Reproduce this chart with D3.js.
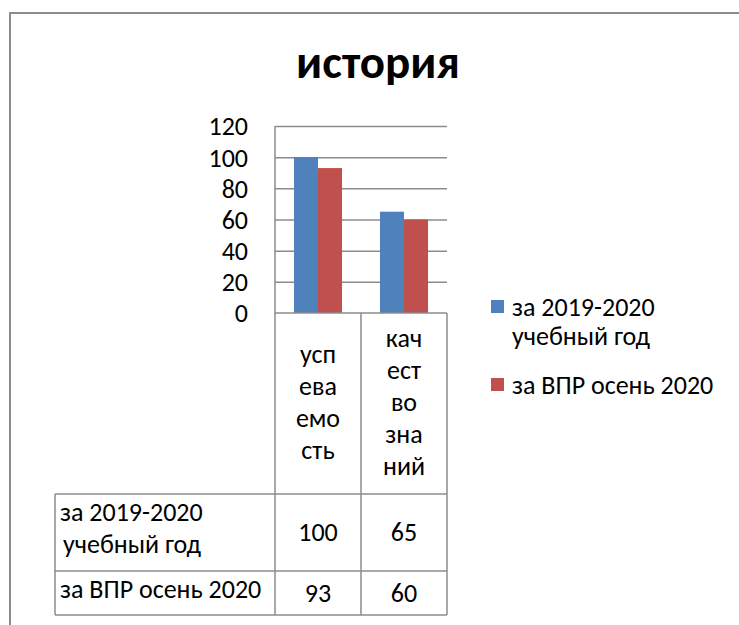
<!DOCTYPE html>
<html>
<head>
<meta charset="utf-8">
<script src="https://d3js.org/d3.v7.min.js"></script>
<style>
  body { margin: 0; background: #fff; }
  text { font-family: Carlito, Calibri, Lato, sans-serif; fill: #000; }
</style>
</head>
<body>
<div id="chart"></div>
<script>
// chart data
var title = "история"
var categories = ["успеваемость", "качество знаний"]
var categoryLines = [["усп", "ева", "емо", "сть"], ["кач", "ест", "во", "зна", "ний"]]
var seriesNames = ["за 2019-2020 учебный год", "за ВПР осень 2020"]
var seriesLines = [["за 2019-2020", "учебный год"], ["за ВПР осень 2020"]]
var values2019 = [100, 65]
var valuesVPR = [93, 60]
var yTicks = [0, 20, 40, 60, 80, 100, 120]

var seriesValues = [values2019, valuesVPR]
var colours = ["#4f81bd", "#c0504d"]
var gridColour = "#8c8c8c"
var fontSize = "26px"

var width = 739, height = 625

var svg = d3.select("#chart").append("svg")
  .attr("width", width)
  .attr("height", height)

// outer frame (only top and left edges are visible)
svg.append("path")
  .attr("d", "M10," + height + "V13H" + width)
  .attr("fill", "none")
  .attr("stroke", "#8c8c8c")
  .attr("stroke-width", 2)

svg.append("text")
  .attr("x", 378)
  .attr("y", 78)
  .attr("text-anchor", "middle")
  .style("font-size", "47px")
  .style("font-weight", "bold")
  .text(title)

var plotLeft = 275, plotRight = 447, plotTop = 126, plotBottom = 313

var x = d3.scaleBand().domain(categories).range([plotLeft, plotRight])
var x1 = d3.scaleBand().domain(seriesNames).range([0, x.bandwidth()]).paddingOuter(0.79)
var y = d3.scaleLinear().domain([0, 120]).range([plotBottom, plotTop])

// gridlines
svg.append("g").selectAll("line")
  .data(yTicks.filter(function (d) { return d > 0 }))
  .enter().append("line")
  .attr("x1", plotLeft).attr("x2", plotRight)
  .attr("y1", function (d) { return y(d) + 0.5 })
  .attr("y2", function (d) { return y(d) + 0.5 })
  .attr("stroke", gridColour)
  .attr("stroke-width", 1.5)

// bars
seriesNames.forEach(function (s, si) {
  svg.append("g").selectAll("rect")
    .data(seriesValues[si])
    .enter().append("rect")
    .attr("x", function (d, i) { return x(categories[i]) + x1(s) })
    .attr("width", x1.bandwidth())
    .attr("y", function (d) { return y(d) })
    .attr("height", function (d) { return y(0) - y(d) })
    .attr("fill", colours[si])
})

// y axis
var yAxis = svg.append("g")
  .attr("transform", "translate(" + plotLeft + ",0)")
  .call(d3.axisLeft(y).tickValues(yTicks).tickSize(0).tickPadding(27))
yAxis.select(".domain").attr("stroke", gridColour).attr("stroke-width", 1.5)
  .attr("d", "M0," + plotTop + "V" + plotBottom)
yAxis.selectAll("text")
  .style("font-size", fontSize)
  .attr("dy", "0.34em")
  .style("font-family", "Carlito, Calibri, Lato, sans-serif")

// data table
var tableLeft = 55, row1Top = 494, row2Top = 571, tableBottom = 615
var rowTops = [row1Top, row2Top, tableBottom]
var table = svg.append("g")
  .attr("stroke", gridColour)
  .attr("stroke-width", 1.5)
  .attr("fill", "none")

// horizontal axis / table lines
table.append("line").attr("x1", plotLeft).attr("x2", plotRight).attr("y1", plotBottom).attr("y2", plotBottom)
rowTops.forEach(function (ry) {
  table.append("line").attr("x1", tableLeft).attr("x2", plotRight).attr("y1", ry).attr("y2", ry)
})
table.append("line").attr("x1", tableLeft).attr("x2", tableLeft).attr("y1", row1Top).attr("y2", tableBottom)
categories.concat([null]).forEach(function (c) {
  var xx = c === null ? plotRight : x(c)
  table.append("line").attr("x1", xx).attr("x2", xx).attr("y1", plotBottom).attr("y2", tableBottom)
})

// category labels
categories.forEach(function (c, ci) {
  var lines = categoryLines[ci]
  var mid = (plotBottom + row1Top) / 2
  var lh = 32
  svg.append("g").selectAll("text")
    .data(lines)
    .enter().append("text")
    .attr("x", x(c) + x.bandwidth() / 2)
    .attr("y", function (d, i) { return mid + (i - (lines.length - 1) / 2) * lh })
    .attr("dy", "0.3em")
    .attr("text-anchor", "middle")
    .style("font-size", fontSize)
    .text(function (d) { return d })
})

// row labels and values
seriesNames.forEach(function (s, si) {
  var top = rowTops[si], bottom = rowTops[si + 1]
  var mid = (top + bottom) / 2
  var lines = seriesLines[si]
  svg.append("g").selectAll("text")
    .data(lines)
    .enter().append("text")
    .attr("x", function (d, i) { return tableLeft + 5 + i * 3 })
    .attr("y", function (d, i) { return mid - 4 + (i - (lines.length - 1) / 2) * 32 })
    .attr("dy", "0.34em")
    .style("font-size", fontSize)
    .text(function (d) { return d })

  svg.append("g").selectAll("text")
    .data(seriesValues[si])
    .enter().append("text")
    .attr("x", function (d, i) { return x(categories[i]) + x.bandwidth() / 2 })
    .attr("y", mid)
    .attr("dy", "0.34em")
    .attr("text-anchor", "middle")
    .style("font-size", fontSize)
    .text(function (d) { return d })
})

// legend
var legendX = 491
var legendTops = [300, 378]
seriesNames.forEach(function (s, si) {
  var g = svg.append("g").attr("transform", "translate(" + legendX + "," + legendTops[si] + ")")
  g.append("rect").attr("width", 13).attr("height", 13).attr("fill", colours[si])
  g.selectAll("text")
    .data(seriesLines[si])
    .enter().append("text")
    .attr("x", 21)
    .attr("y", function (d, i) { return 7 + i * 29 })
    .attr("dy", "0.34em")
    .style("font-size", fontSize)
    .text(function (d) { return d })
})
</script>
</body>
</html>
